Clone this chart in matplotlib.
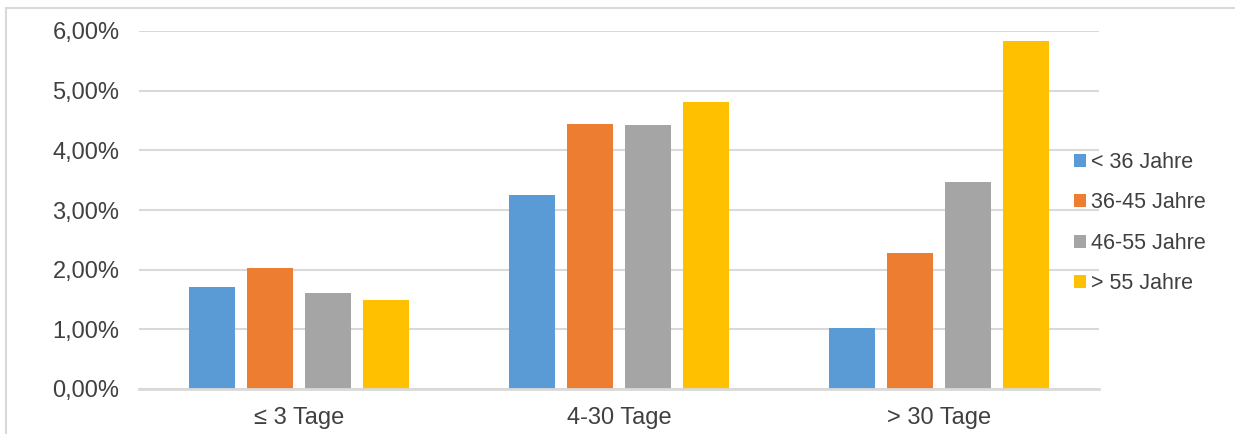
import matplotlib
matplotlib.use("Agg")
import matplotlib.pyplot as plt
from matplotlib.patches import Rectangle
import numpy as np

plt.rcParams["font.family"] = ["Liberation Sans", "DejaVu Sans"]

categories = ["≤ 3 Tage", "4-30 Tage", "> 30 Tage"]
groups = ["< 36 Jahre", "36-45 Jahre", "46-55 Jahre", "> 55 Jahre"]
colors = ["#5b9bd5", "#ed7d31", "#a5a5a5", "#ffc000"]
values = {
    "< 36 Jahre": [1.71, 3.25, 1.02],
    "36-45 Jahre": [2.03, 4.44, 2.28],
    "46-55 Jahre": [1.61, 4.42, 3.47],
    "> 55 Jahre": [1.49, 4.81, 5.83],
}
yticks = [0, 1, 2, 3, 4, 5, 6]
ytick_labels = ["0,00%", "1,00%", "2,00%", "3,00%", "4,00%", "5,00%", "6,00%"]

TEXT = "#404040"
GRID = "#d9d9d9"

W, H = 1235, 434
fig = plt.figure(figsize=(W / 100, H / 100), dpi=100)
# outer chart frame (right and bottom edges fall outside the picture)
fig.patches.append(Rectangle((6 / W, -0.1), 2, 1.1 - 8 / H, transform=fig.transFigure,
                             facecolor="none", edgecolor=GRID, lw=1.5))
ax = fig.add_axes([139 / W, 45 / H, 960 / W, 358 / H])

x = np.arange(len(categories))
bw, step = 0.144, 0.181
for i, g in enumerate(groups):
    ax.bar(x + (i - 1.5) * step, values[g], width=bw, color=colors[i], label=g, zorder=3)

ax.set_xlim(-0.5, 2.5)
ax.set_ylim(0, 6)
ax.set_yticks(yticks)
ax.set_yticklabels(ytick_labels)
ax.set_xticks(x)
ax.set_xticklabels(categories)
ax.grid(axis="y", color=GRID, lw=1.5, zorder=0)
for s in ["top", "right", "left"]:
    ax.spines[s].set_visible(False)
ax.spines["bottom"].set_color(GRID)
ax.spines["bottom"].set_linewidth(2)
ax.spines["bottom"].set_zorder(4)
ax.tick_params(axis="both", length=0, labelsize=17, colors=TEXT)
ax.tick_params(axis="y", pad=14)
ax.tick_params(axis="x", pad=13)

leg = ax.legend(loc="upper left", bbox_to_anchor=(1074 / W, 1 - 152 / H), bbox_transform=fig.transFigure,
                frameon=False, fontsize=15.5, handlelength=0.55, handleheight=0.55,
                handletextpad=0.25, labelspacing=0.9, borderpad=0, borderaxespad=0)
for t in leg.get_texts():
    t.set_color(TEXT)

fig.savefig("out.png", dpi=100)
